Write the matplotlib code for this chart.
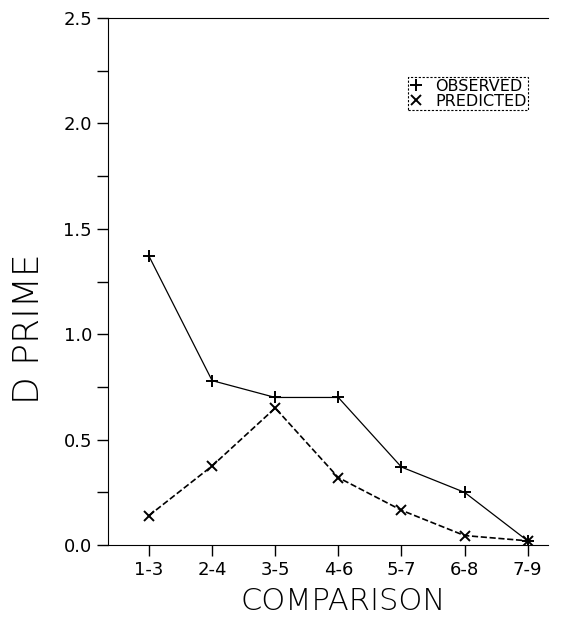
import matplotlib.pyplot as plt
from matplotlib.ticker import MultipleLocator

comparisons = ['1-3', '2-4', '3-5', '4-6', '5-7', '6-8', '7-9']
observed = [1.37, 0.78, 0.70, 0.70, 0.37, 0.25, 0.02]
predicted = [0.14, 0.375, 0.65, 0.32, 0.165, 0.045, 0.02]

plt.rcParams['font.family'] = ['DejaVu Sans']

fig = plt.figure(figsize=(5.61, 6.19), dpi=100)
ax = fig.add_axes([0.1925, 0.1195, 0.784, 0.8514])

x = list(range(1, len(comparisons) + 1))
ax.plot(x, observed, '-', color='black', linewidth=0.9, marker='+', markersize=9,
        markeredgewidth=1.4, label='OBSERVED')
ax.plot(x, predicted, '--', color='black', linewidth=1.2, marker='x', markersize=7,
        markeredgewidth=1.4, label='PREDICTED')

ax.set_xlim(0.35, 7.32)
ax.set_ylim(0, 2.5)
ax.set_xticks(x)
ax.set_xticklabels(comparisons, fontsize=13)
ax.yaxis.set_major_locator(MultipleLocator(0.5))
ax.yaxis.set_minor_locator(MultipleLocator(0.25))
ax.set_yticklabels([f'{v:.1f}' for v in ax.get_yticks()], fontsize=13)
ax.tick_params(axis='both', which='both', direction='out', length=8, width=1)
ax.spines['right'].set_visible(False)
ax.spines['top'].set_linewidth(0.8)

ax.set_xlabel('COMPARISON', fontsize=22, fontweight='light')
ax.xaxis.set_label_coords(0.534, -0.08)
ax.set_ylabel('D PRIME', fontsize=26, fontweight='light')
ax.yaxis.set_label_coords(-0.14, 0.41)

leg = ax.legend(loc='upper right', bbox_to_anchor=(0.955, 0.888), borderaxespad=0,
                handlelength=0.8, handletextpad=0.8, borderpad=0.1, labelspacing=0.0,
                fontsize=11.5, fancybox=False, framealpha=1, edgecolor='black')
leg.get_frame().set_linestyle((0, (2, 1.5)))
leg.get_frame().set_linewidth(0.8)
for h in leg.legend_handles:
    h.set_linestyle('None')

plt.savefig('out.png')
plt.close('all')
